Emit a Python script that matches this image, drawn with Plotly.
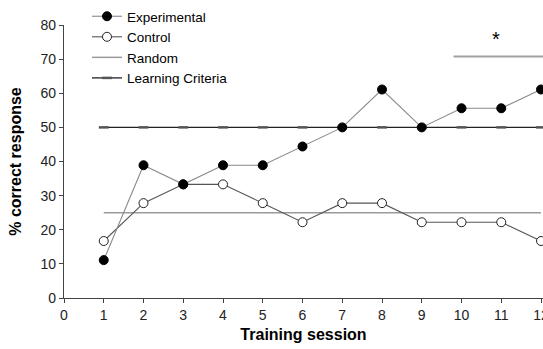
import plotly.graph_objects as go

sessions = [1, 2, 3, 4, 5, 6, 7, 8, 9, 10, 11, 12]
experimental = [11.1, 38.9, 33.3, 38.9, 38.9, 44.4, 50.0, 61.1, 50.0, 55.6, 55.6, 61.1]
control = [16.7, 27.8, 33.3, 33.3, 27.8, 22.2, 27.8, 27.8, 22.2, 22.2, 22.2, 16.7]
random_level = [25] * 12
criteria_level = [50] * 12
sig_x = [9.8, 12.05]
sig_y = [70.8, 70.8]
sig_label = "*"
sig_label_pos = (10.88, 76.0)
x_ticks = list(range(0, 13))
y_ticks = list(range(0, 90, 10))

FONT = "Arial, Liberation Sans, sans-serif"

fig = go.Figure()

fig.add_trace(go.Scatter(
    x=sessions, y=random_level, mode="lines", name="Random",
    line=dict(color="#9a9a9a", width=1.5), legendrank=3))
fig.add_trace(go.Scatter(
    x=sessions, y=criteria_level, mode="lines+markers", name="Learning Criteria",
    line=dict(color="#222222", width=1.3),
    marker=dict(symbol="line-ew", size=7, line=dict(color="#555555", width=2.5)),
    legendrank=4))
fig.add_trace(go.Scatter(
    x=sessions, y=control, mode="lines+markers", name="Control",
    line=dict(color="#555555", width=1.1),
    marker=dict(symbol="circle", size=9, color="white", line=dict(color="#222222", width=1)),
    legendrank=2))
fig.add_trace(go.Scatter(
    x=sessions, y=experimental, mode="lines+markers", name="Experimental",
    line=dict(color="#8a8a8a", width=1.1),
    marker=dict(symbol="circle", size=9, color="black", line=dict(color="black", width=1)),
    legendrank=1))
fig.add_trace(go.Scatter(
    x=sig_x, y=sig_y, mode="lines", showlegend=False,
    line=dict(color="#a0a0a0", width=2)))

fig.add_annotation(x=sig_label_pos[0], y=sig_label_pos[1], text=sig_label,
                   showarrow=False, font=dict(family=FONT, size=20, color="black"))

fig.update_layout(
    width=543, height=349,
    margin=dict(l=64, r=0, t=25, b=51),
    paper_bgcolor="white", plot_bgcolor="white",
    font=dict(family=FONT, size=14, color="#222222"),
    legend=dict(x=0.048, y=1.088, xanchor="left", yanchor="top",
                bgcolor="rgba(0,0,0,0)", font=dict(size=13.5, color="black"),
                itemwidth=30, tracegroupgap=0),
    xaxis=dict(range=[0, 12.05], tickvals=x_ticks, showgrid=False, zeroline=False,
               showline=True, linecolor="#444444", linewidth=1.2,
               ticks="outside", ticklen=4, tickcolor="#444444",
               tickfont=dict(size=14), ticklabeloverflow="allow", automargin=False,
               title=dict(text="<b>Training session</b>", font=dict(size=16, color="black"), standoff=6)),
    yaxis=dict(range=[0, 80], tickvals=y_ticks, showgrid=False, zeroline=False,
               showline=True, linecolor="#444444", linewidth=1.2,
               ticks="outside", ticklen=4, tickcolor="#444444",
               tickfont=dict(size=14), automargin=False,
               title=dict(text="<b>% correct response</b>", font=dict(size=16, color="black"), standoff=14)),
)

fig.write_html("out.html", config={"displayModeBar": False},
               post_script="document.body.style.margin='0';document.body.style.overflow='hidden';")
